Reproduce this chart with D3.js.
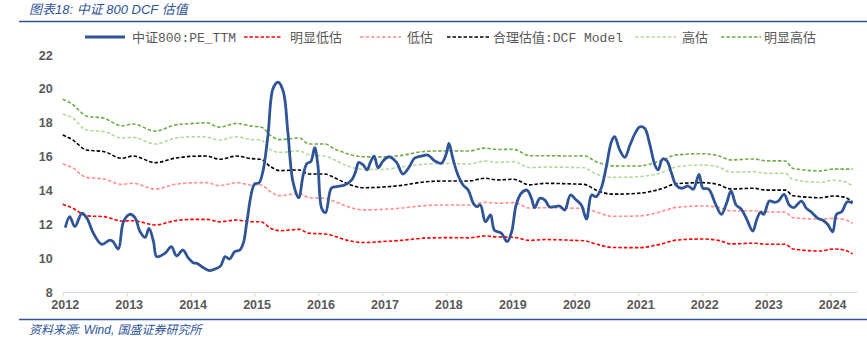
<!DOCTYPE html>
<html>
<head>
<meta charset="utf-8">
<script src="https://cdn.jsdelivr.net/npm/d3@7/dist/d3.min.js"></script>
<style>
  html, body { margin: 0; padding: 0; background: #fff; }
  svg { display: block; }
</style>
</head>
<body>
<svg id="chart" width="867" height="349"></svg>
<script>
// ---------- DATA ----------
const years = [2012, 2013, 2014, 2015, 2016, 2017, 2018, 2019, 2020, 2021, 2022, 2023, 2024];
const yTicks = [8, 10, 12, 14, 16, 18, 20, 22];

const peDates = [2012.04,2012.11,2012.19,2012.30,2012.38,2012.48,2012.61,2012.74,2012.79,2012.87,2012.95,
  2013.05,2013.13,2013.21,2013.29,2013.35,2013.42,2013.47,2013.60,2013.70,2013.78,2013.88,2013.96,
  2014.04,2014.10,2014.20,2014.29,2014.41,2014.47,2014.54,2014.61,2014.69,2014.77,2014.83,2014.88,
  2015.00,2015.07,2015.13,2015.21,2015.29,2015.37,2015.45,2015.52,2015.60,2015.69,2015.76,2015.82,2015.88,2015.94,2015.99,
  2016.05,2016.11,2016.20,2016.28,2016.41,2016.52,2016.58,2016.63,2016.70,2016.76,2016.81,2016.87,2016.93,
  2017.01,2017.10,2017.22,2017.32,2017.42,2017.50,2017.61,2017.71,2017.82,2017.92,
  2018.00,2018.04,2018.10,2018.18,2018.26,2018.34,2018.42,2018.47,2018.53,2018.61,2018.69,2018.75,2018.86,2018.95,
  2019.02,2019.09,2019.17,2019.26,2019.33,2019.38,2019.46,2019.54,2019.61,2019.69,2019.77,2019.85,2019.94,
  2020.03,2020.11,2020.19,2020.27,2020.34,2020.42,2020.50,2020.58,2020.63,2020.71,2020.79,2020.87,2020.95,
  2021.02,2021.10,2021.18,2021.26,2021.31,2021.38,2021.45,2021.52,2021.59,2021.67,2021.78,2021.86,2021.95,
  2022.01,2022.10,2022.21,2022.30,2022.38,2022.45,2022.53,2022.61,2022.69,2022.79,2022.85,2022.91,2022.96,
  2023.05,2023.13,2023.19,2023.28,2023.36,2023.43,2023.55,2023.63,2023.70,2023.81,2023.88,2023.96,
  2024.04,2024.10,2024.18,2024.27,2024.35];
const peValues = [11.80,12.45,11.86,12.65,12.35,11.47,10.82,11.07,10.97,10.54,12.15,
  12.59,12.39,11.56,11.23,11.76,10.97,10.09,10.29,10.68,10.13,10.48,10.03,
  9.73,9.69,9.44,9.26,9.40,9.54,10.09,9.95,10.38,10.48,10.97,12.15,
  14.38,14.45,15.11,17.27,20.03,20.39,19.83,17.47,14.52,13.57,14.91,15.60,15.70,16.52,15.50,
  12.94,12.69,14.13,14.22,14.32,14.62,15.11,15.66,15.50,15.21,15.66,16.03,15.34,
  15.74,15.99,15.66,14.97,15.40,15.90,16.03,16.09,15.74,15.60,
  16.19,16.78,15.90,14.91,14.32,14.02,13.24,13.04,13.14,12.15,12.55,11.66,11.47,10.97,
  11.56,13.14,13.83,14.02,13.53,12.98,13.53,13.43,13.04,13.04,13.08,12.84,13.73,
  13.43,13.14,12.31,13.73,13.63,14.13,15.40,16.88,17.17,16.39,15.96,16.68,17.37,
  17.75,17.67,16.72,15.50,15.21,15.86,15.74,15.01,14.32,14.13,14.26,14.07,14.95,
  14.13,14.08,13.18,12.59,13.24,13.97,13.14,12.90,12.35,11.60,12.25,12.71,12.59,
  13.37,13.30,13.37,13.77,13.14,12.98,13.37,12.94,12.74,12.35,12.25,12.00,
  11.56,12.59,12.74,13.33,13.24];

const bandDates = [2012.00,2012.15,2012.37,2012.65,2012.92,2013.10,2013.45,2013.75,2014.05,2014.25,2014.45,2014.72,
  2014.95,2015.10,2015.25,2015.40,2015.70,2015.85,2016.10,2016.25,2016.45,2016.70,2017.00,2017.30,2017.65,
  2018.00,2018.35,2018.60,2018.80,2019.05,2019.30,2019.55,2020.00,2020.15,2020.35,2020.60,2021.00,2021.35,
  2021.60,2022.00,2022.25,2022.45,2022.80,2023.00,2023.30,2023.42,2023.85,2024.05,2024.20,2024.35];
const strongLow = [13.18,12.97,12.50,12.45,12.19,12.21,11.96,12.21,12.29,12.29,12.15,12.25,
  12.15,12.15,11.76,11.62,11.70,11.47,11.43,11.30,11.05,10.92,10.98,11.05,11.18,
  11.21,11.20,11.31,11.25,11.23,11.05,11.10,11.05,11.03,10.82,10.63,10.62,10.82,
  11.07,11.13,11.05,10.84,10.88,10.82,10.82,10.54,10.42,10.54,10.50,10.25];
const lowVal = [15.56,15.35,14.77,14.67,14.36,14.42,14.08,14.36,14.45,14.46,14.28,14.46,
  14.32,14.32,13.92,13.69,13.83,13.57,13.53,13.35,13.05,12.85,12.88,12.96,13.10,
  13.14,13.14,13.30,13.24,13.28,12.96,12.98,12.95,12.94,12.72,12.47,12.49,12.74,
  13.00,13.08,13.00,12.80,12.80,12.74,12.71,12.39,12.31,12.35,12.30,12.06];
const fairDCF = [17.27,17.00,16.39,16.29,15.90,16.03,15.64,15.90,16.02,16.03,15.84,16.03,
  15.88,15.84,15.40,15.17,15.21,14.97,14.97,14.75,14.40,14.16,14.20,14.30,14.50,
  14.56,14.56,14.72,14.62,14.66,14.33,14.42,14.38,14.36,14.00,13.78,13.83,14.08,
  14.40,14.46,14.35,14.08,14.13,14.02,14.02,13.69,13.57,13.67,13.62,13.33];
const highVal = [18.50,18.30,17.57,17.47,17.10,17.14,16.74,17.08,17.17,17.15,16.98,17.17,
  17.00,16.98,16.39,16.25,16.33,16.10,16.03,15.80,15.45,15.25,15.24,15.38,15.55,
  15.60,15.56,15.73,15.66,15.70,15.35,15.38,15.36,15.34,14.95,14.77,14.81,15.03,
  15.40,15.50,15.40,15.07,15.11,15.01,15.01,14.65,14.48,14.60,14.55,14.26];
const strongHigh = [19.38,19.10,18.40,18.26,17.82,17.92,17.50,17.86,17.96,18.00,17.74,17.96,
  17.80,17.75,17.25,17.00,17.10,16.74,16.74,16.45,16.17,15.99,15.98,16.07,16.30,
  16.34,16.33,16.50,16.42,16.43,16.05,16.05,16.03,16.05,15.68,15.45,15.44,15.75,
  16.10,16.17,16.05,15.80,15.86,15.75,15.74,15.30,15.15,15.26,15.26,15.26];

const seriesNames = ["中证800:PE_TTM", "明显低估", "低估", "合理估值:DCF Model", "高估", "明显高估"];
const seriesColors = ["#2F5597", "#FF0000", "#FF8F8F", "#000000", "#B5D99C", "#70AD47"];

// ---------- CHART ----------
const svg = d3.select("#chart");
const blue = "#2F5597";

const x = d3.scaleLinear().domain([2012, 2024.42]).range([62.7, 857]);
const y = d3.scaleLinear().domain([8, 22]).range([292, 55]);

// title & rules
svg.append("text").attr("x", 29).attr("y", 14)
  .attr("font-family", "'Liberation Sans', 'Noto Sans CJK SC', sans-serif")
  .attr("font-style", "italic").attr("font-size", 13).attr("fill", blue)
  .text("图表18:  中证 800 DCF 估值");
svg.append("line").attr("x1", 19).attr("x2", 867).attr("y1", 21.5).attr("y2", 21.5)
  .attr("stroke", blue).attr("stroke-width", 1.5);
svg.append("line").attr("x1", 19).attr("x2", 867).attr("y1", 319.5).attr("y2", 319.5)
  .attr("stroke", blue).attr("stroke-width", 1.5);
svg.append("text").attr("x", 29).attr("y", 334)
  .attr("font-family", "'Liberation Sans', 'Noto Sans CJK SC', sans-serif")
  .attr("font-style", "italic").attr("font-size", 12).attr("fill", blue)
  .text("资料来源: Wind, 国盛证券研究所");

// axes
const xAxis = svg.append("g").attr("transform", "translate(0,292)")
  .call(d3.axisBottom(x).tickValues(years).tickFormat(d3.format("d")).tickSize(4).tickSizeOuter(0).tickPadding(4));
xAxis.select(".domain").attr("stroke", "#D9D9D9");
xAxis.selectAll(".tick line").attr("stroke", "#D9D9D9");
xAxis.selectAll(".tick text").attr("fill", "#595959").attr("font-size", 12.5)
  .attr("font-weight", "bold").attr("font-family", "'Liberation Sans', Arial, sans-serif")
  .attr("dx", 2);

const yAxis = svg.append("g").attr("transform", "translate(62.7,0)")
  .call(d3.axisLeft(y).tickValues(yTicks).tickSize(0).tickPadding(10));
yAxis.select(".domain").remove();
yAxis.selectAll(".tick text").attr("fill", "#595959").attr("font-size", 12.5)
  .attr("font-weight", "bold").attr("font-family", "'Liberation Sans', Arial, sans-serif");

// band lines
const bandLine = d3.line().x((d, i) => x(bandDates[i])).y(d => y(d)).curve(d3.curveMonotoneX);
const bands = [strongLow, lowVal, fairDCF, highVal, strongHigh];
bands.forEach((arr, k) => {
  svg.append("path").attr("d", bandLine(arr)).attr("fill", "none")
    .attr("stroke", seriesColors[k + 1]).attr("stroke-width", 1.6)
    .attr("stroke-dasharray", "3.5,2");
});

// PE line
const peLine = d3.line().x((d, i) => x(peDates[i])).y(d => y(d)).curve(d3.curveCatmullRom.alpha(0.5));
svg.append("path").attr("d", peLine(peValues)).attr("fill", "none")
  .attr("stroke", blue).attr("stroke-width", 2.8).attr("stroke-linejoin", "round");

// legend
const legendItems = [
  {x1: 85, x2: 125, tx: 132},
  {x1: 244, x2: 282, tx: 290},
  {x1: 360, x2: 401, tx: 407},
  {x1: 447, x2: 489, tx: 493},
  {x1: 635, x2: 676, tx: 682},
  {x1: 721, x2: 761, tx: 764}
];
const lg = svg.append("g");
legendItems.forEach((it, i) => {
  lg.append("line").attr("x1", it.x1).attr("x2", it.x2).attr("y1", 37).attr("y2", 37)
    .attr("stroke", seriesColors[i]).attr("stroke-width", i === 0 ? 3 : 1.6)
    .attr("stroke-dasharray", i === 0 ? null : "3.5,2");
  lg.append("text").attr("x", it.tx).attr("y", 41.5)
    .attr("font-family", "'Liberation Mono', 'DejaVu Sans Mono', 'Noto Sans CJK SC', monospace")
    .attr("font-size", 13).attr("fill", "#595959")
    .text(seriesNames[i]);
});
</script>
</body>
</html>
